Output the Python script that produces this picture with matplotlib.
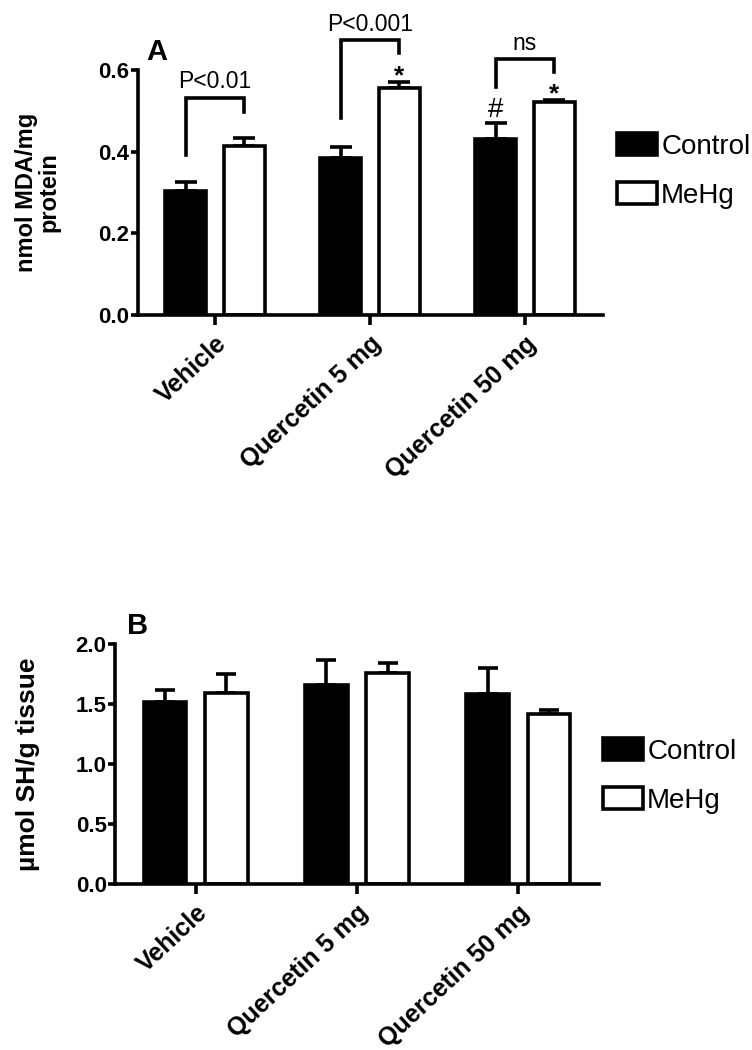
import matplotlib
matplotlib.use("Agg")
import matplotlib.pyplot as plt
from matplotlib.patches import Patch
import numpy as np

plt.rcParams['font.family'] = ['Liberation Sans', 'DejaVu Sans']

groups = ["Vehicle", "Quercetin 5 mg", "Quercetin 50 mg"]
series = ["Control", "MeHg"]

# panel A: nmol MDA/mg protein
mda_control = [0.304, 0.385, 0.430]
mda_control_err = [0.021, 0.026, 0.040]
mda_mehg = [0.415, 0.557, 0.522]
mda_mehg_err = [0.019, 0.014, 0.005]

# panel B: umol SH/g tissue
sh_control = [1.52, 1.66, 1.58]
sh_control_err = [0.10, 0.21, 0.22]
sh_mehg = [1.59, 1.76, 1.42]
sh_mehg_err = [0.16, 0.08, 0.03]

# brackets for panel A: (left leg bottom, top, right leg bottom, label)
brackets = [(0.392, 0.532, 0.496, "P<0.01"),
            (0.482, 0.673, 0.641, "P<0.001"),
            (0.558, 0.626, 0.596, "ns")]

W = 0.265
OFF = 0.19
LW = 2.6


def draw_panel(ax, ctl, ctl_err, meh, meh_err, capsize):
    x = np.arange(len(groups))
    ax.bar(x - OFF, ctl, W, color="black", edgecolor="black", linewidth=LW, zorder=2)
    ax.bar(x + OFF, meh, W, color="white", edgecolor="black", linewidth=LW, zorder=2)
    ax.errorbar(x - OFF, ctl, yerr=[np.zeros(3), ctl_err], fmt="none", ecolor="black",
                elinewidth=LW, capsize=capsize, capthick=LW, zorder=1)
    ax.errorbar(x + OFF, meh, yerr=[np.zeros(3), meh_err], fmt="none", ecolor="black",
                elinewidth=LW, capsize=capsize, capthick=LW, zorder=1)
    ax.set_xlim(-0.5, 2.5)
    ax.set_xticks(x)
    ax.set_xticklabels(groups, rotation=43, ha="right", rotation_mode="anchor",
                       fontsize=18, fontweight="bold")
    for s in ["top", "right"]:
        ax.spines[s].set_visible(False)
    for s in ["left", "bottom"]:
        ax.spines[s].set_linewidth(LW)
    ax.tick_params(axis="x", length=7, width=LW, pad=5)
    ax.tick_params(axis="y", length=5, width=LW, pad=1)


fig = plt.figure(figsize=(7.52, 10.5), dpi=100)

# ---- panel A
axA = fig.add_axes([137.5 / 752, 1 - 315 / 1050, 465 / 752, 245 / 1050])
draw_panel(axA, mda_control, mda_control_err, mda_mehg, mda_mehg_err, 8)
axA.set_ylim(0, 0.6)
axA.set_yticks([0.0, 0.2, 0.4, 0.6])
axA.set_yticklabels(["0.0", "0.2", "0.4", "0.6"], fontsize=16, fontweight="bold")
axA.set_ylabel("nmol MDA/mg\nprotein", fontsize=17, fontweight="bold", linespacing=1.0)
axA.yaxis.set_label_coords(-0.165, 0.5)

for i, (lb, top, rb, lab) in enumerate(brackets):
    xl, xr = i - OFF, i + OFF
    axA.plot([xl, xl, xr, xr], [lb, top, top, rb], color="black", lw=LW,
             clip_on=False, solid_joinstyle="miter")
    axA.text(i, top + 0.023, lab, ha="center", va="baseline", fontsize=16.5)

axA.text(2 - OFF, 0.485, "#", ha="center", va="baseline", fontsize=20)
axA.text(1 + OFF, mda_mehg[1] + mda_mehg_err[1] - 0.003, "*", ha="center", va="baseline",
         fontsize=19, fontweight="bold")
axA.text(2 + OFF, mda_mehg[2] + mda_mehg_err[2] - 0.003, "*", ha="center", va="baseline",
         fontsize=19, fontweight="bold")
fig.text(157 / 752, 1 - 52 / 1050, "A", fontsize=21, fontweight="bold",
         ha="center", va="center")

# ---- panel B
axB = fig.add_axes([115 / 752, 1 - 884 / 1050, 484 / 752, 240 / 1050])
draw_panel(axB, sh_control, sh_control_err, sh_mehg, sh_mehg_err, 7.5)
axB.set_ylim(0, 2.0)
axB.set_yticks([0.0, 0.5, 1.0, 1.5, 2.0])
axB.set_yticklabels(["0.0", "0.5", "1.0", "1.5", "2.0"], fontsize=16, fontweight="bold")
axB.set_ylabel("\u00b5mol SH/g tissue", fontsize=19, fontweight="bold")
axB.yaxis.set_label_coords(-0.155, 0.5)
fig.text(138 / 752, 1 - 626 / 1050, "B", fontsize=21, fontweight="bold",
         ha="center", va="center")

handles = [Patch(facecolor="black", edgecolor="black", linewidth=LW),
           Patch(facecolor="white", edgecolor="black", linewidth=LW)]
for anchor in [(617 / 752, 1 - 133 / 1050), (603 / 752, 1 - 738 / 1050)]:
    fig.legend(handles, series, loc="upper left", bbox_to_anchor=anchor,
               frameon=False, fontsize=20, handlelength=1.44, handleheight=0.83,
               handletextpad=0.15, labelspacing=0.82, borderpad=0, borderaxespad=0)

fig.savefig("out.png", dpi=100)
